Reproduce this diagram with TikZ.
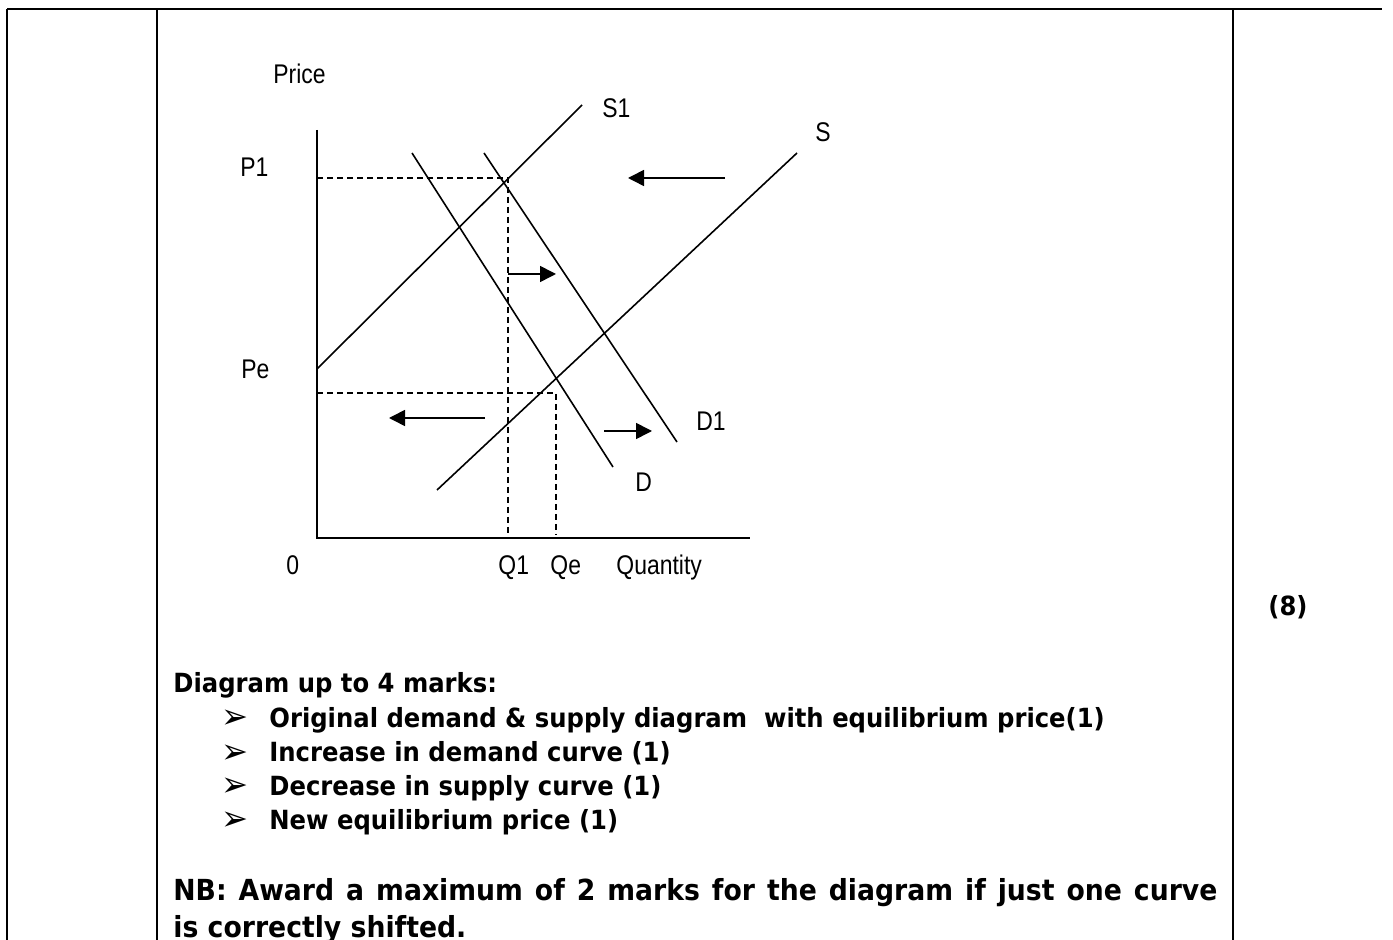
\documentclass[tikz,border=0pt]{standalone}
\usepackage{fontspec}
\usetikzlibrary{arrows.meta,positioning}
\newfontfamily\lblfont[FakeStretch=0.85]{Liberation Sans}
\newfontfamily\markfont[FakeStretch=0.92]{DejaVu Sans}
\newcommand{\markbullet}{{\fontsize{17.5}{17.5}\selectfont ➢}}

\begin{document}
\begin{tikzpicture}[
  x=0.5pt, y=-0.5pt,
  frame/.style={line width=1.4pt},
  axis/.style={line width=1pt},
  curve/.style={line width=0.8pt},
  guide/.style={line width=0.8pt, dash pattern=on 3pt off 2pt},
  movearrow/.style={line width=0.8pt, -{Triangle[length=8pt,width=8pt]}},
  lbl/.style={font=\lblfont\fontsize{13.5}{16}\selectfont, inner sep=0pt, anchor=base west},
  marks/.style={font=\markfont\bfseries\fontsize{13.2}{16}\selectfont, inner sep=0pt, anchor=base west},
  nbnote/.style={marks, font=\markfont\bfseries\fontsize{14.5}{17}\selectfont}
]
\useasboundingbox (0,0) rectangle (1393,940);

% table frame
\coordinate (tl) at (7,9);
\coordinate (tr) at (1382,9);
\draw[frame] (tl) -- (tr);
\draw[frame] (tl) -- (7,940);
\draw[frame] (157,9) -- (157,940);
\draw[frame] (1233,9) -- (1233,940);

% axes
\coordinate (O) at (317,538);
\coordinate (ytop) at (317,130);
\coordinate (xend) at (750,538);
\draw[axis] (ytop) -- (O) -- (xend);

% curves
\coordinate (S1a) at (317,369);
\coordinate (S1b) at (582,105);
\coordinate (Sa) at (437,490);
\coordinate (Sb) at (797,153);
\coordinate (Da) at (412,153);
\coordinate (Db) at (613,467);
\coordinate (D1a) at (484,153);
\coordinate (D1b) at (677,442);
\draw[curve] (S1a) -- (S1b);
\draw[curve] (Sa) -- (Sb);
\draw[curve] (Da) -- (Db);
\draw[curve] (D1a) -- (D1b);

% equilibrium guides
\coordinate (P1y) at (317,178);
\coordinate (E1) at (508,178);
\coordinate (Q1x) at (508,533);
\coordinate (Pey) at (317,393);
\coordinate (E0) at (556,393);
\coordinate (Qex) at (556,535);
\draw[guide] (P1y) -- (E1) -- (Q1x);
\draw[guide] (Pey) -- (E0) -- (Qex);

% shift arrows
\coordinate (a1) at (725,178); \coordinate (b1) at (628,178);
\coordinate (a2) at (508,274); \coordinate (b2) at (556,274);
\coordinate (a3) at (485,418); \coordinate (b3) at (389,418);
\coordinate (a4) at (604,431); \coordinate (b4) at (652,431);
\draw[movearrow] (a1) -- (b1);
\draw[movearrow] (a2) -- (b2);
\draw[movearrow] (a3) -- (b3);
\draw[movearrow] (a4) -- (b4);

% labels
\node[lbl] (price) at (273,84) {Price};
\node[lbl] (p1) at (240,177) {P1};
\node[lbl] (pe) at (241,379) {Pe};
\node[lbl] (zero) at (286,575) {0};
\node[lbl] (q1) at (498,575) {Q1};
\node[lbl] (qe) at (550,575) {Qe};
\node[lbl] (qty) at (616,575) {Quantity};
\node[lbl] (s1) at (602,118) {S1};
\node[lbl] (s) at (815,142) {S};
\node[lbl] (d) at (635,492) {D};
\node[lbl] (d1) at (696,431) {D1};

% marking notes
\node[marks] (total) at (1268,616) {(8)};
\node[marks] (head) at (173,693) {Diagram up to 4 marks:};
\node[marks] (bul1) at (221,729) {\markbullet};
\node[marks] (bul2) at (221,763) {\markbullet};
\node[marks] (bul3) at (221,797) {\markbullet};
\node[marks] (bul4) at (221,830) {\markbullet};
\node[marks] (item1) at (269,728) {Original demand \& supply diagram\ \ with equilibrium price(1)};
\node[marks] (item2) at (269,762) {Increase in demand curve (1)};
\node[marks] (item3) at (269,796) {Decrease in supply curve (1)};
\node[marks] (item4) at (269,829) {New equilibrium price (1)};
\node[nbnote] (nb) at (173,900) {\makebox[522pt][s]{NB: Award a maximum of 2 marks for the diagram if just one curve}};
\node[nbnote] (nb2) at (173,937) {is correctly shifted.};
\end{tikzpicture}
\end{document}
